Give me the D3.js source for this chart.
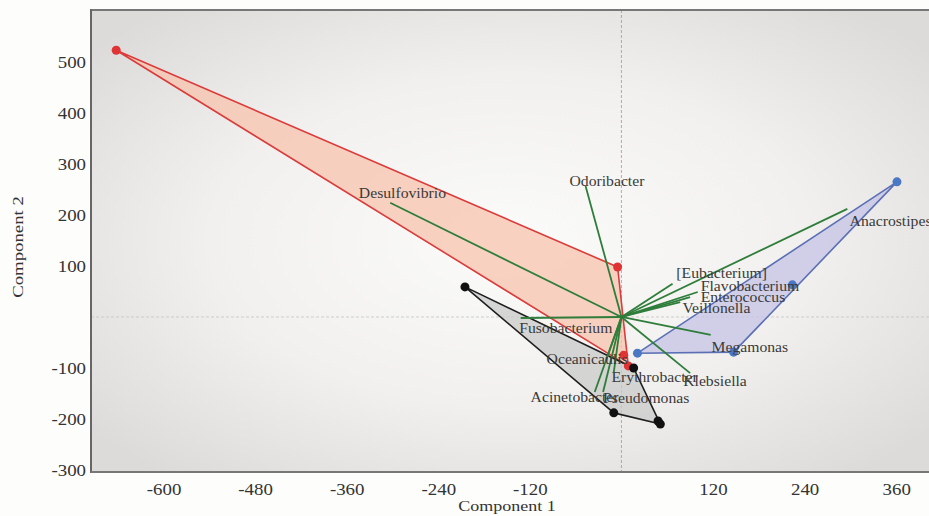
<!DOCTYPE html>
<html>
<head>
<meta charset="utf-8">
<script src="https://cdn.jsdelivr.net/npm/d3@7"></script>
<style>
  body { margin: 0; background: #fdfdfb; }
  svg { display: block; }
  text { font-family: "Liberation Serif", "DejaVu Serif", serif; }
</style>
</head>
<body>
<div id="chart"></div>
<script>

// group scores (Component 1, Component 2)
const redX = [-662, -5, 3, 9];
const redY = [523, 98, -75, -96];
const blackX = [-205, 16, -10, 48, 51];
const blackY = [59, -100, -188, -204, -210];
const blueX = [361, 224, 147, 21];
const blueY = [265, 63, -69, -71];

// loadings (arrow tips) and label anchors
const taxa = ['Desulfovibrio', 'Odoribacter', 'Anacrostipes', '[Eubacterium]', 'Flavobacterium',
    'Enterococcus', 'Veillonella', 'Megamonas', 'Klebsiella', 'Fusobacterium',
    'Oceanicaulis', 'Erythrobacter', 'Acinetobacter', 'Pseudomonas'];
const loadX = [-303, -47, 296, 67, 100, 90, 77, 117, 90, -132, -20, -10, -35, -24];
const loadY = [224, 257, 212, 65, 49, 39, 29, -35, -110, -2, -84, -108, -147, -147];
const labelX = [-344, -68, 299, 72, 104, 104, 80, 118, 81, -134, -98, -13, -119, -24];
const labelY = [233, 257, 178, 76, 51, 29, 8, -69, -135, -31, -92, -127, -167, -169];

// ticks
const xTicks = [-600, -480, -360, -240, -120, 120, 240, 360];
const yTicks = [500, 400, 300, 200, 100, -100, -200, -300];

const W = 929, H = 516;
const margin = {top: 10, right: 0, bottom: 44, left: 91};

const svg = d3.select('#chart').append('svg')
    .attr('width', W)
    .attr('height', H);

const x = d3.scaleLinear().domain([-695, 403]).range([margin.left, W - margin.right]);
const y = d3.scaleLinear().domain([-304, 602]).range([H - margin.bottom, margin.top]);

// the original picture is a little wider than tall, so text looks stretched
function stretch(sel, k) {
    sel.each(function () {
        const len = this.getComputedTextLength();
        d3.select(this)
            .attr('textLength', len * k)
            .attr('lengthAdjust', 'spacingAndGlyphs');
    });
}

// background gradient of the plot panel
const defs = svg.append('defs');
const grad = defs.append('radialGradient')
    .attr('id', 'bg')
    .attr('cx', '50%').attr('cy', '50%').attr('r', '65%');
grad.append('stop').attr('offset', '0%').attr('stop-color', '#fbfbf9');
grad.append('stop').attr('offset', '55%').attr('stop-color', '#f1f0ee');
grad.append('stop').attr('offset', '100%').attr('stop-color', '#dcdbd9');

svg.append('rect')
    .attr('x', x.range()[0])
    .attr('y', y.range()[1])
    .attr('width', x.range()[1] - x.range()[0])
    .attr('height', y.range()[0] - y.range()[1])
    .attr('fill', 'url(#bg)');

// zero lines
svg.append('line')
    .attr('x1', x(0)).attr('x2', x(0))
    .attr('y1', y.range()[1]).attr('y2', y.range()[0])
    .attr('stroke', '#9a9a9a')
    .attr('stroke-width', 0.8)
    .attr('stroke-dasharray', '3,2');
svg.append('line')
    .attr('x1', x.range()[0]).attr('x2', x.range()[1])
    .attr('y1', y(0)).attr('y2', y(0))
    .attr('stroke', '#c4c4c4')
    .attr('stroke-width', 0.8)
    .attr('stroke-dasharray', '3,2');

// groups
const groups = [
    {xs: redX, ys: redY, fill: '#f7c3ae', stroke: '#dc3b3b', dot: '#e03434'},
    {xs: blackX, ys: blackY, fill: '#c9c9c9', stroke: '#1e1e1e', dot: '#111111'},
    {xs: blueX, ys: blueY, fill: '#c6c3e6', stroke: '#5b70b4', dot: '#4a78c4'}
];

groups.forEach(g => {
    const pts = g.xs.map((v, i) => [x(v), y(g.ys[i])]);
    const hull = d3.polygonHull(pts);
    svg.append('path')
        .attr('d', 'M' + hull.join('L') + 'Z')
        .attr('fill', g.fill)
        .attr('fill-opacity', 0.75)
        .attr('stroke', g.stroke)
        .attr('stroke-width', 1.6)
        .attr('stroke-linejoin', 'round');
});

// loading arrows
svg.selectAll('.load')
    .data(taxa)
    .enter()
    .append('line')
    .attr('class', 'load')
    .attr('x1', x(0))
    .attr('y1', y(0))
    .attr('x2', (d, i) => x(loadX[i]))
    .attr('y2', (d, i) => y(loadY[i]))
    .attr('stroke', '#2f7d3b')
    .attr('stroke-width', 1.8);

// points
groups.forEach(g => {
    svg.selectAll(null)
        .data(g.xs)
        .enter()
        .append('circle')
        .attr('cx', d => x(d))
        .attr('cy', (d, i) => y(g.ys[i]))
        .attr('r', 4.5)
        .attr('fill', g.dot);
});

// taxa labels
svg.selectAll('.taxon')
    .data(taxa)
    .enter()
    .append('text')
    .attr('class', 'taxon')
    .attr('x', (d, i) => x(labelX[i]))
    .attr('y', (d, i) => y(labelY[i]))
    .attr('font-size', 14)
    .attr('fill', '#3a3a3a')
    .text(d => d)
    .call(stretch, 1.12);

// frame
svg.append('line')
    .attr('x1', x.range()[0]).attr('x2', x.range()[1])
    .attr('y1', y.range()[1]).attr('y2', y.range()[1])
    .attr('stroke', '#777').attr('stroke-width', 2);
svg.append('line')
    .attr('x1', x.range()[0]).attr('x2', x.range()[0])
    .attr('y1', y.range()[1] - 1).attr('y2', y.range()[0] + 1)
    .attr('stroke', '#666').attr('stroke-width', 2);
svg.append('line')
    .attr('x1', x.range()[0]).attr('x2', x.range()[1])
    .attr('y1', y.range()[0]).attr('y2', y.range()[0])
    .attr('stroke', '#777').attr('stroke-width', 2);

// axes (labels only)
const xAxis = d3.axisBottom(x).tickValues(xTicks).tickSize(0).tickPadding(12).tickFormat(d => String(d));
const yAxis = d3.axisLeft(y).tickValues(yTicks).tickSize(0).tickPadding(5).tickFormat(d => String(d));

const gx = svg.append('g')
    .attr('transform', `translate(0, ${y.range()[0]})`)
    .call(xAxis);
const gy = svg.append('g')
    .attr('transform', `translate(${x.range()[0]}, 0)`)
    .call(yAxis);

[gx, gy].forEach(g => {
    g.select('.domain').remove();
    g.selectAll('text')
        .style('font-family', '"Liberation Serif", serif')
        .style('font-size', '16px')
        .style('fill', '#333')
        .call(stretch, 1.18);
});

// axis titles
svg.append('text')
    .attr('x', 507)
    .attr('y', 511)
    .attr('text-anchor', 'middle')
    .attr('font-size', 15)
    .attr('fill', '#333')
    .text('Component 1')
    .call(stretch, 1.2);

svg.append('text')
    .attr('transform', 'translate(23, 247) rotate(-90)')
    .attr('text-anchor', 'middle')
    .attr('font-size', 15)
    .attr('fill', '#333')
    .text('Component 2')
    .call(stretch, 1.25);

</script>
</body>
</html>
